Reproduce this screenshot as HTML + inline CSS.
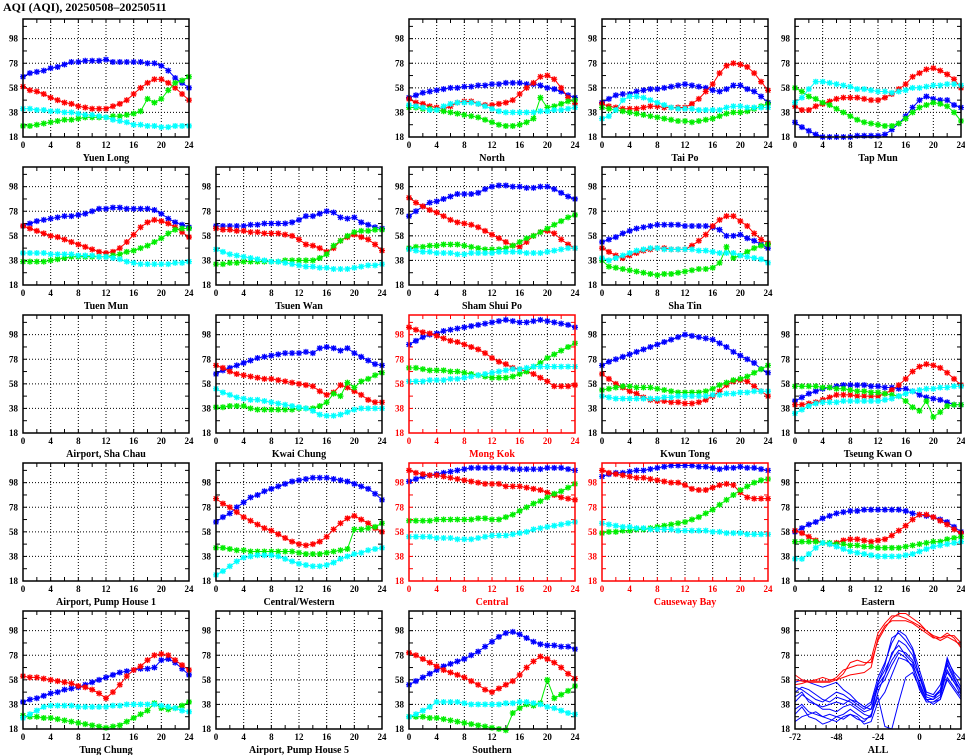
<!DOCTYPE html>
<html><head><meta charset="utf-8">
<style>
body{margin:0;background:#fff;}
svg{display:block;font-family:"Liberation Serif",serif;font-weight:bold;}
</style></head>
<body>
<svg id="chart" width="965" height="755" viewBox="0 0 965 755" xmlns="http://www.w3.org/2000/svg">
<rect width="965" height="755" fill="#fff"/>
<text x="3" y="11" font-size="12">AQI (AQI), 20250508–20250511</text>
</svg>
<script>
const hours = [0,1,2,3,4,5,6,7,8,9,10,11,12,13,14,15,16,17,18,19,20,21,22,23,24];
const xTickLabels = [0,4,8,12,16,20,24];
const yTickLabels = [18,38,58,78,98];
const allX = [-72,-68,-64,-60,-56,-52,-48,-44,-40,-36,-32,-28,-24,-20,-16,-12,-8,-4,0,4,8,12,16,20,24];
const allXTickLabels = [-72,-48,-24,0,24];

const yl_b=[67,70,71,72,74,75,77,79,79,80,80,80,81,79,79,79,79,79,78,78,76,72,66,62,58];
const yl_r=[59,56,55,53,50,48,46,45,43,42,41,41,41,43,45,48,53,58,62,65,65,62,58,53,48];
const yl_g=[27,27,28,29,30,31,32,32,33,34,34,34,34,35,35,36,37,39,49,46,49,56,62,64,67];
const yl_c=[41,41,40,40,39,39,38,38,37,36,36,35,34,32,31,30,28,28,27,27,26,26,27,27,27];

const no_b=[50,52,54,55,56,57,58,58,59,59,60,60,61,61,62,62,62,61,61,60,58,57,55,52,50];
const no_r=[49,46,45,43,42,41,43,46,47,47,45,44,44,45,46,48,53,58,62,67,68,65,58,50,45];
const no_g=[42,42,41,41,40,39,38,37,36,35,34,32,30,28,27,27,28,30,33,50,42,43,45,47,48];
const no_c=[44,43,42,40,40,43,45,46,46,46,45,43,41,39,38,38,38,38,38,39,39,40,40,41,42];

const tp_b=[46,49,52,53,53,55,56,57,57,58,59,60,61,60,59,58,56,55,57,60,60,57,55,51,46];
const tp_r=[45,43,42,41,41,41,42,43,43,42,42,42,42,45,49,55,61,70,76,78,77,75,70,63,56];
const tp_g=[42,41,40,39,38,37,36,35,34,33,32,31,31,30,31,32,33,35,37,38,38,39,41,43,45];
const tp_c=[33,35,40,48,51,51,50,48,46,44,42,41,41,41,40,40,40,40,42,43,43,42,42,42,42];

const tm_b=[30,26,23,20,18,18,18,18,18,19,19,19,19,20,24,29,35,42,48,51,49,48,48,44,42];
const tm_r=[43,40,40,43,45,47,49,50,50,50,49,48,48,50,53,57,61,67,70,73,74,72,69,65,58];
const tm_g=[58,55,51,49,46,44,41,38,35,32,30,29,28,27,27,29,33,38,42,44,46,45,43,38,31];
const tm_c=[46,50,57,63,63,62,61,60,59,57,57,56,55,55,54,55,56,58,58,59,60,60,61,61,60];

const tmn_b=[66,68,70,71,72,73,74,74,75,76,78,80,80,81,81,80,80,80,80,79,76,72,69,67,65];
const tmn_r=[66,64,62,60,58,57,55,53,51,49,47,45,44,45,48,53,59,65,69,71,70,68,65,61,57];
const tmn_g=[37,37,37,37,38,39,40,41,41,41,41,41,41,42,43,45,46,48,50,53,56,60,63,64,64];
const tmn_c=[44,44,44,44,43,43,43,43,42,42,42,41,41,40,39,37,36,35,35,35,35,35,36,36,37];

const tw_b=[66,66,66,66,66,67,67,68,68,68,68,69,71,74,74,76,78,77,73,72,73,69,67,65,64];
const tw_r=[64,63,63,62,62,61,61,60,60,60,59,58,55,51,50,48,45,48,54,57,59,57,55,51,46];
const tw_g=[35,35,36,36,37,37,37,37,37,37,38,38,38,38,38,40,43,50,54,58,61,62,62,63,63];
const tw_c=[47,45,43,42,41,40,39,38,37,37,36,35,34,33,33,32,32,31,31,31,32,33,34,34,35];

const ssp_b=[74,78,82,85,86,88,90,92,92,92,93,96,98,99,99,98,98,97,97,98,98,96,93,90,88];
const ssp_r=[89,85,82,79,77,74,71,69,68,67,65,62,59,56,53,50,49,53,58,61,62,60,55,51,48];
const ssp_g=[48,49,49,50,50,51,51,51,50,49,48,47,47,47,48,50,53,56,58,61,64,67,70,73,75];
const ssp_c=[47,46,45,45,44,44,44,43,43,44,44,44,44,45,45,45,45,44,44,44,45,46,47,48,48];

const st_b=[53,55,57,60,62,64,65,66,67,67,67,67,66,66,66,66,65,63,58,58,59,56,54,51,48];
const st_r=[48,45,42,40,42,44,46,47,48,48,47,47,47,50,54,59,66,71,74,74,70,66,60,55,52];
const st_g=[38,33,32,31,30,29,28,27,26,27,27,28,29,30,31,31,32,36,49,40,42,45,48,50,51];
const st_c=[40,38,40,42,44,46,47,48,48,47,47,47,47,47,46,46,45,44,44,44,42,41,40,39,36];

const kc_b=[66,69,71,73,75,77,79,80,81,82,83,83,83,84,83,87,88,87,85,87,83,80,77,74,73];
const kc_r=[73,71,68,66,65,64,63,62,62,61,60,59,58,57,56,52,49,51,57,55,52,49,45,43,43];
const kc_g=[39,39,40,40,40,38,37,37,37,37,37,37,38,38,38,40,43,50,48,59,55,60,62,65,67];
const kc_c=[54,51,49,47,46,45,45,44,43,42,41,40,39,38,36,33,32,32,33,35,37,38,38,38,38];

const mk_b=[90,93,96,98,99,101,102,103,104,105,106,107,108,109,110,109,108,108,109,110,109,108,107,106,104];
const mk_r=[104,102,100,99,97,95,93,92,90,88,86,83,79,76,74,71,70,68,66,63,60,56,56,56,57];
const mk_g=[71,71,70,69,69,69,68,68,67,66,65,64,63,63,63,64,66,68,72,75,79,82,85,88,91];
const mk_c=[60,60,60,61,61,61,62,62,63,64,65,66,67,68,69,70,70,71,72,72,72,72,72,72,72];

const kt_b=[73,76,78,80,82,84,86,88,90,92,94,96,98,97,96,95,94,91,88,84,81,78,75,70,67];
const kt_r=[66,62,58,55,52,50,47,45,44,44,43,43,42,42,43,45,48,52,57,60,61,60,56,52,48];
const kt_g=[53,54,55,56,56,55,55,55,54,53,52,51,51,51,51,52,54,57,59,61,62,64,67,70,73];
const kt_c=[48,47,46,46,46,46,46,46,46,47,47,48,48,48,48,48,49,49,50,50,51,51,52,52,52];

const tko_b=[44,47,50,52,54,55,56,57,57,57,57,56,56,55,55,54,54,52,49,47,46,45,43,41,41];
const tko_r=[41,41,42,43,45,47,49,49,49,48,48,48,48,50,53,57,62,68,72,74,73,71,67,62,57];
const tko_g=[56,56,56,56,55,55,54,54,53,52,52,51,51,50,49,48,44,39,36,44,31,35,40,41,41];
const tko_c=[34,37,40,42,43,43,43,44,44,44,44,44,44,45,46,48,50,52,53,54,54,55,55,56,56];

const cw_b=[66,70,73,78,82,86,88,91,93,95,97,99,100,101,102,102,102,101,100,99,97,95,93,89,84];
const cw_r=[85,81,78,74,70,67,64,61,59,56,53,50,48,47,48,50,54,60,65,69,71,68,65,61,58];
const cw_g=[45,45,44,43,43,42,42,42,42,42,42,42,41,40,40,40,41,42,43,44,60,60,61,62,65];
const cw_c=[23,26,30,34,37,38,39,39,39,38,36,34,32,31,30,30,31,33,36,38,40,41,43,44,45];

const ce_b=[99,101,103,104,105,106,107,108,109,110,110,110,110,110,110,109,109,109,109,109,110,110,110,109,108];
const ce_r=[108,106,105,104,104,103,102,101,100,99,98,97,97,97,95,95,95,94,93,92,90,88,86,85,84];
const ce_g=[67,67,67,67,68,68,68,68,68,68,69,69,68,68,70,72,75,78,81,83,86,89,91,94,97];
const ce_c=[54,54,54,54,53,53,53,52,52,52,53,54,55,55,55,56,57,58,60,61,62,63,64,65,66];

const cb_b=[103,105,106,106,107,108,108,109,110,111,112,112,112,112,111,111,110,109,110,110,111,110,110,109,108];
const cb_r=[108,106,105,104,103,102,102,101,100,99,98,98,96,93,92,92,94,96,97,96,90,86,85,85,85];
const cb_g=[57,58,58,59,59,60,60,61,62,63,64,65,66,68,70,73,76,80,84,88,92,95,98,100,101];
const cb_c=[65,64,63,62,62,61,61,60,60,60,60,59,59,59,59,59,58,58,57,57,57,56,56,56,56];

const ea_b=[58,61,64,66,69,71,73,74,75,75,76,76,76,76,76,76,75,73,72,71,70,68,66,62,58];
const ea_r=[59,57,54,51,49,48,49,51,52,52,51,50,51,52,55,59,63,68,72,72,70,67,64,60,57];
const ea_g=[50,50,50,50,49,49,48,48,47,47,46,46,45,45,45,45,46,47,48,49,50,50,52,53,54];
const ea_c=[36,36,40,45,49,48,46,44,42,41,40,39,38,38,38,38,39,40,42,44,46,47,48,49,50];

const tc_b=[40,42,43,45,47,48,50,51,52,54,56,58,60,62,64,65,66,67,67,68,74,75,72,67,62];
const tc_r=[61,60,60,59,58,57,56,55,53,52,50,47,43,48,54,61,66,69,74,78,79,78,74,70,66];
const tc_g=[29,28,28,27,27,26,25,24,23,22,21,20,19,20,21,24,27,30,33,39,35,34,35,37,40];
const tc_c=[27,30,33,36,37,37,37,37,36,36,36,36,36,37,37,38,38,38,38,38,37,36,35,33,32];

const so_b=[54,57,60,63,66,69,71,73,75,78,81,85,89,93,96,97,95,92,89,87,86,86,85,85,83];
const so_r=[80,78,75,72,69,66,64,62,60,57,54,50,48,51,54,57,62,68,73,77,75,72,68,63,59];
const so_g=[28,28,28,27,27,26,25,24,23,22,21,20,19,18,17,31,35,38,37,39,58,43,46,49,53];
const so_c=[28,30,33,36,40,40,40,40,39,38,38,38,38,38,39,39,40,40,39,38,36,35,33,31,30];

const all_r1=[62,58,57,58,60,58,58,63,72,74,72,72,90,100,108,112,112,108,104,98,94,92,96,92,84];
const all_r2=[54,55,57,57,57,57,60,66,68,70,70,75,96,104,110,110,108,105,102,98,93,90,93,90,86];
const all_r3=[58,57,56,56,56,56,58,60,62,63,64,68,92,102,106,106,106,104,100,96,92,92,94,94,88];
const all_b1=[40,46,42,38,34,34,32,36,38,34,30,28,56,70,92,96,90,82,60,44,42,46,72,60,48];
const all_b2=[34,38,32,30,28,30,28,30,34,30,26,28,48,62,80,86,78,72,54,42,42,50,76,62,52];
const all_b3=[48,52,50,46,42,40,44,42,40,36,32,34,52,58,70,80,76,68,50,40,40,44,66,56,46];
const all_b4=[56,58,56,54,52,54,56,50,46,40,36,40,60,72,88,98,94,84,66,48,46,54,74,64,58];
const all_b5=[30,36,28,26,22,24,28,26,30,28,22,24,40,48,62,76,74,70,56,42,38,42,60,52,44];
const all_b6=[44,48,40,38,36,38,40,38,42,40,36,34,54,62,74,82,80,74,60,46,44,48,70,58,50];
const all_b7=[24,28,30,32,28,26,24,28,30,26,24,30,44,20,18,40,60,64,52,40,40,42,58,50,42];
const all_b8=[52,50,46,42,40,44,48,46,42,38,34,38,56,66,78,90,86,78,62,46,44,50,64,56,50];

const NS="http://www.w3.org/2000/svg";
const svg=document.getElementById('chart');
const colX=[23,216,409,602,795], rowY=[19,167,315,463,611], W=166, H=118, YMIN=18, YMAX=114;
const BLUE='#0000ff', RED='#ff0000', GREEN='#00ee00', CYAN='#00ffff';

function mk(tag,attrs,parent){const e=document.createElementNS(NS,tag);for(const k in attrs)e.setAttribute(k,attrs[k]);(parent||svg).appendChild(e);return e;}

function drawPanel(col,row,title,slug,series,isRed,xs,xmin,xmax,xticks,gridStep,minorStep,markers){
  const x0=colX[col], y0=rowY[row];
  const fc=isRed?RED:'#000';
  const g=mk('g',{});
  
  
  const sx=v=>x0+(v-xmin)/(xmax-xmin)*W;
  const sy=v=>y0+H-(v-YMIN)/(YMAX-YMIN)*H;
  // grid
  for(let v=xmin+gridStep; v<xmax; v+=gridStep){
    const l=mk('line',{x1:sx(v),x2:sx(v),y1:y0,y2:y0+H,stroke:'#000','stroke-width':1,'stroke-dasharray':'1,2'},g);
    
    
  }
  for(const v of yTickLabels.slice(1)){
    const l=mk('line',{x1:x0,x2:x0+W,y1:sy(v),y2:sy(v),stroke:'#000','stroke-width':1,'stroke-dasharray':'1,2'},g);
    
    
  }
  // minor ticks
  for(let v=xmin; v<=xmax; v+=minorStep){
    mk('line',{x1:sx(v),x2:sx(v),y1:y0+H,y2:y0+H-4,stroke:fc},g);
    mk('line',{x1:sx(v),x2:sx(v),y1:y0,y2:y0+4,stroke:fc},g);
  }
  for(let v=YMIN; v<=YMAX; v+=10){
    mk('line',{x1:x0,x2:x0+4,y1:sy(v),y2:sy(v),stroke:fc},g);
    mk('line',{x1:x0+W,x2:x0+W-4,y1:sy(v),y2:sy(v),stroke:fc},g);
  }
  // series
  for(const s of series){
    const pts=s.data.map((v,i)=>sx(xs[i]).toFixed(1)+','+sy(v).toFixed(1)).join(' ');
    const pl=mk('polyline',{points:pts,fill:'none',stroke:s.color,'stroke-width':1},g);
    
    
    if(markers){
      s.data.forEach((v,i)=>{
        const cx=sx(xs[i]), cy=sy(v), r=3;
        const m=mk('path',{d:`M${cx-r},${cy}H${cx+r}M${cx},${cy-r}V${cy+r}M${cx-2.3},${cy-2.3}L${cx+2.3},${cy+2.3}M${cx-2.3},${cy+2.3}L${cx+2.3},${cy-2.3}`,stroke:s.color,'stroke-width':1.3,fill:'none'},g);
        
        
      });
    }
  }
  // frame
  const fr=mk('rect',{x:x0,y:y0,width:W,height:H,fill:'none',stroke:fc,'stroke-width':1.5},g);
  
  
  // tick labels
  for(const v of xticks){
    const t=mk('text',{x:sx(v),y:y0+H+11,'font-size':9,'text-anchor':'middle',fill:fc},g);
    t.textContent=v;
    
    
  }
  for(const v of yTickLabels){
    const t=mk('text',{x:x0-5,y:sy(v)+3,'font-size':9,'text-anchor':'end',fill:fc},g);
    t.textContent=v;
    
    
  }
  const tt=mk('text',{x:x0+W/2,y:y0+H+24,'font-size':10,'text-anchor':'middle',fill:fc},g);
  tt.textContent=title;
  
  
}

function S(b,r,gg,c){return [{name:'blue',color:BLUE,data:b},{name:'red',color:RED,data:r},{name:'green',color:GREEN,data:gg},{name:'cyan',color:CYAN,data:c}];}
function P(col,row,title,slug,series,isRed){drawPanel(col,row,title,slug,series,isRed,hours,0,24,xTickLabels,4,2,true);}

P(0,0,'Yuen Long','yuen-long',S(yl_b,yl_r,yl_g,yl_c),false);
P(2,0,'North','north',S(no_b,no_r,no_g,no_c),false);
P(3,0,'Tai Po','tai-po',S(tp_b,tp_r,tp_g,tp_c),false);
P(4,0,'Tap Mun','tap-mun',S(tm_b,tm_r,tm_g,tm_c),false);
P(0,1,'Tuen Mun','tuen-mun',S(tmn_b,tmn_r,tmn_g,tmn_c),false);
P(1,1,'Tsuen Wan','tsuen-wan',S(tw_b,tw_r,tw_g,tw_c),false);
P(2,1,'Sham Shui Po','sham-shui-po',S(ssp_b,ssp_r,ssp_g,ssp_c),false);
P(3,1,'Sha Tin','sha-tin',S(st_b,st_r,st_g,st_c),false);
P(0,2,'Airport, Sha Chau','airport-sha-chau',[],false);
P(1,2,'Kwai Chung','kwai-chung',S(kc_b,kc_r,kc_g,kc_c),false);
P(2,2,'Mong Kok','mong-kok',S(mk_b,mk_r,mk_g,mk_c),true);
P(3,2,'Kwun Tong','kwun-tong',S(kt_b,kt_r,kt_g,kt_c),false);
P(4,2,'Tseung Kwan O','tseung-kwan-o',S(tko_b,tko_r,tko_g,tko_c),false);
P(0,3,'Airport, Pump House 1','airport-pump-house-1',[],false);
P(1,3,'Central/Western','central-western',S(cw_b,cw_r,cw_g,cw_c),false);
P(2,3,'Central','central',S(ce_b,ce_r,ce_g,ce_c),true);
P(3,3,'Causeway Bay','causeway-bay',S(cb_b,cb_r,cb_g,cb_c),true);
P(4,3,'Eastern','eastern',S(ea_b,ea_r,ea_g,ea_c),false);
P(0,4,'Tung Chung','tung-chung',S(tc_b,tc_r,tc_g,tc_c),false);
P(1,4,'Airport, Pump House 5','airport-pump-house-5',[],false);
P(2,4,'Southern','southern',S(so_b,so_r,so_g,so_c),false);

const allSeries=[all_b1,all_b2,all_b3,all_b4,all_b5,all_b6,all_b7,all_b8].map((d,i)=>({name:'station'+(i+1),color:BLUE,data:d}))
  .concat([all_r1,all_r2,all_r3].map((d,i)=>({name:'roadside'+(i+1),color:RED,data:d})));
drawPanel(4,4,'ALL','all',allSeries,false,allX,-72,24,allXTickLabels,24,6,false);
</script>
</body></html>
